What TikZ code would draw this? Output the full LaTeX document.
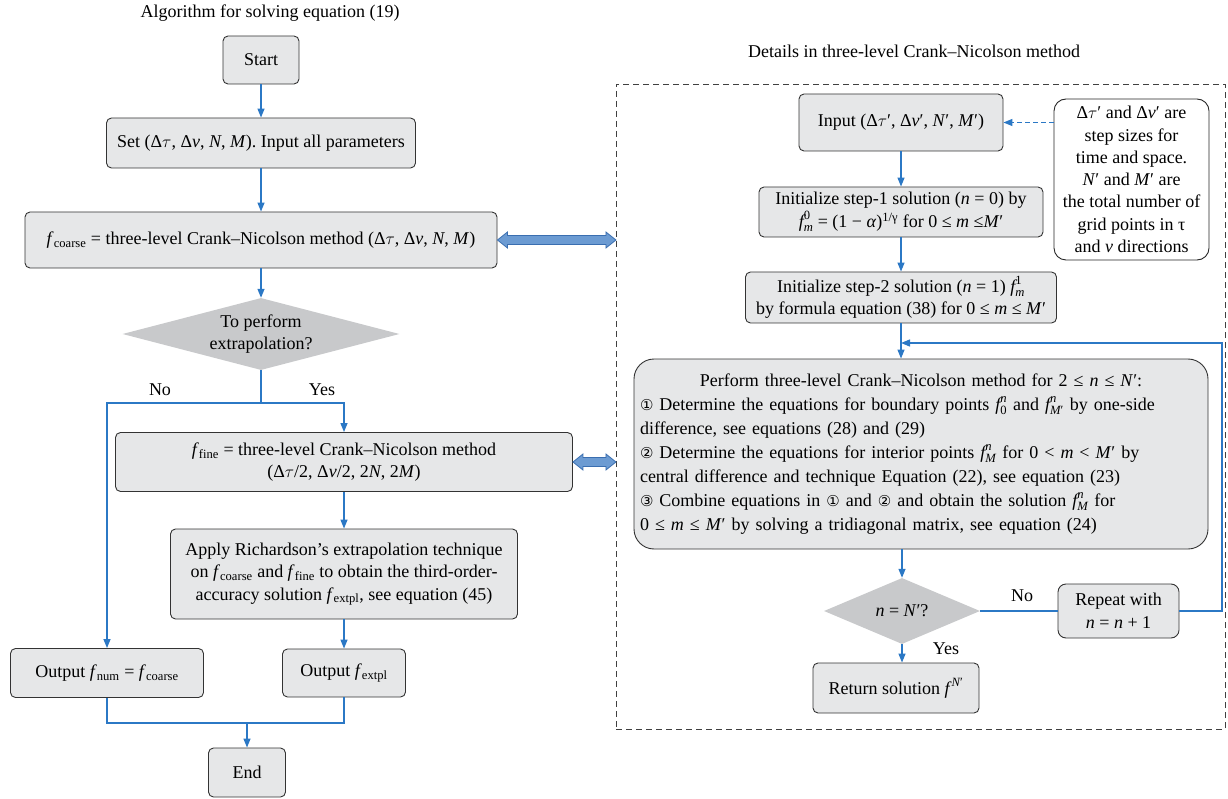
\documentclass[tikz,border=0pt]{standalone}
\usepackage{fontspec}
\usepackage{amsmath}
\setmainfont{Liberation Serif}
\newfontfamily\dejavu{DejaVu Sans}
\usetikzlibrary{shapes.geometric,arrows.meta}
\definecolor{boxfill}{HTML}{E6E7E8}
\definecolor{diafill}{HTML}{C8C9CB}
\definecolor{lblue}{HTML}{2B78C5}
\definecolor{dafill}{HTML}{6C9BD2}
\definecolor{daedge}{HTML}{3A6EB0}
\newcommand\mi[1]{\textit{#1}}
\newcommand\tu{\ensuremath{\tau}}
\newcommand\cnum[1]{{\dejavu\fontsize{15}{15}\selectfont #1}}
\newcommand\fsc[2]{\ensuremath{\mi{f}^{\textnormal{#1}}_{#2}}}
\tikzset{
  box/.style={draw=black!80, fill=boxfill, rounded corners=5pt, line width=0.9pt,
    align=center, inner sep=3pt, font=\fontsize{18}{22.5}\selectfont},
  dec/.style={diamond, fill=diafill, inner sep=0pt, align=center,
    font=\fontsize{18}{22.5}\selectfont},
  flow/.style={draw=lblue, line width=1.3pt, -{Triangle[length=9pt,width=7pt]}},
  conn/.style={draw=lblue, line width=1.3pt},
  dblarrow/.style={draw=daedge, fill=dafill, line width=0.8pt, line join=miter},
  lbl/.style={font=\fontsize{18}{18}\selectfont, inner sep=0pt},
}
\begin{document}
\begin{tikzpicture}[x=1pt,y=-1pt]
\useasboundingbox (0,0) rectangle (1228,799);

% titles
\node[lbl] (t1) at (270,13) {Algorithm for solving equation (19)};
\node[lbl] (t2) at (914,51) {Details in three-level Crank--Nicolson method};

% dashed frame
\node[draw=black!75, dashed, dash pattern=on 6pt off 4pt, line width=0.9pt,
  minimum width=609pt, minimum height=645pt, inner sep=0pt] (frame) at (920.5,406.5) {};

% left column
\node[box, minimum width=76pt, minimum height=48pt] (start) at (261,60) {Start};
\node[box, minimum width=309pt, minimum height=50pt] (set) at (261,143)
  {Set (Δ\tu, Δ\mi{ν}, \mi{N}, \mi{M}). Input all parameters};
\node[box, minimum width=472pt, minimum height=56pt] (coarse) at (261,240)
  {\mi{f}\textsubscript{coarse} = three-level Crank--Nicolson method (Δ\tu, Δ\mi{ν}, \mi{N}, \mi{M})};
\node[dec, minimum width=277pt, minimum height=72pt, aspect=3.8] (d1) at (261,334)
  {To perform\\extrapolation?};
\node[box, minimum width=457pt, minimum height=59pt] (fine) at (344,462)
  {\mi{f}\textsubscript{fine} = three-level Crank--Nicolson method\\(Δ\tu/2, Δ\mi{ν}/2, 2\mi{N}, 2\mi{M})};
\node[box, minimum width=347pt, minimum height=90pt] (apply) at (344,574)
  {Apply Richardson’s extrapolation technique\\on \mi{f}\textsubscript{coarse} and \mi{f}\textsubscript{fine} to obtain the third-order-\\accuracy solution \mi{f}\textsubscript{extpl}, see equation (45)};
\node[box, minimum width=193pt, minimum height=49pt] (out1) at (107,673)
  {Output \mi{f}\textsubscript{num} = \mi{f}\textsubscript{coarse}};
\node[box, minimum width=123pt, minimum height=48pt] (out2) at (344,673)
  {Output \mi{f}\textsubscript{extpl}};
\node[box, minimum width=77pt, minimum height=49pt] (end) at (247,772.5) {End};

\coordinate (split) at (261,403);
\coordinate (mrg) at (247,723);

\draw[flow] (start) -- (set);
\draw[flow] (set) -- (coarse);
\draw[flow] (coarse) -- (d1);
\draw[conn] (d1.south) -- (split);
\draw[flow] (split) -| (out1.north);
\draw[flow] (split) -| (fine.north);
\draw[flow] (fine) -- (apply);
\draw[flow] (apply) -- (out2);
\draw[conn] (out1.south) |- (mrg);
\draw[conn] (out2.south) |- (mrg);
\draw[flow] (mrg) -- (end);

\node[lbl] (no1) at (160,390) {No};
\node[lbl] (yes1) at (322,390) {Yes};

% double arrows
\draw[dblarrow] (coarse.east) -- ++(10,-8) -- ++(0,3.5) -- ++(98.5,0) -- ++(0,-3.5)
  -- ++(10,8) -- ++(-10,8) -- ++(0,-3.5) -- ++(-98.5,0) -- ++(0,3.5) -- cycle;
\draw[dblarrow] (fine.east) -- ++(10,-8) -- ++(0,3.5) -- ++(23,0) -- ++(0,-3.5)
  -- ++(10,8) -- ++(-10,8) -- ++(0,-3.5) -- ++(-23,0) -- ++(0,3.5) -- cycle;

% right column
\node[box, minimum width=204pt, minimum height=57pt] (input) at (901,122.5)
  {Input (Δ\tu′, Δ\mi{ν}′, \mi{N}′, \mi{M}′)};
\node[draw=black!85, fill=white, rounded corners=12pt, line width=0.9pt, align=center,
  minimum width=155pt, minimum height=161pt, inner sep=2pt,
  font=\fontsize{18}{22.3}\selectfont] (note) at (1131.5,179.5)
  {Δ\tu′ and Δ\mi{ν}′ are\\step sizes for\\time and space.\\\mi{N}′ and \mi{M}′ are\\the total number of\\grid points in τ\\and \mi{ν} directions};
\node[box, minimum width=284pt, minimum height=50pt] (init1) at (901,212)
  {Initialize step-1 solution (\mi{n} = 0) by\\\fsc{0}{\mi{m}} = (1 − \mi{α})\textsuperscript{1/γ} for 0 ≤ \mi{m} ≤\mi{M}′};
\node[box, minimum width=311pt, minimum height=51pt] (init2) at (901,297.5)
  {Initialize step-2 solution (\mi{n} = 1) \fsc{1}{\mi{m}}\\by formula equation (38) for 0 ≤ \mi{m} ≤ \mi{M}′};
\node[box, rounded corners=20pt, minimum width=574pt, minimum height=190pt,
  text width=562pt, align=left, inner sep=6pt, font=\fontsize{18}{24}\selectfont] (perf) at (921,454)
  {\makebox[\linewidth][c]{Perform three-level Crank--Nicolson method for 2 ≤ \mi{n} ≤ \mi{N}′:}\\
   \cnum{①} Determine the equations for boundary points \fsc{\mi{n}}{\textnormal{0}} and \fsc{\mi{n}}{\mi{M}′} by one-side\\
   difference, see equations (28) and (29)\\
   \cnum{②} Determine the equations for interior points \fsc{\mi{n}}{\mi{M}} for 0 < \mi{m} < \mi{M}′ by\\
   central difference and technique Equation (22), see equation (23)\\
   \cnum{③} Combine equations in \cnum{①} and \cnum{②} and obtain the solution \fsc{\mi{n}}{\mi{M}} for\\
   0 ≤ \mi{m} ≤ \mi{M}′ by solving a tridiagonal matrix, see equation (24)};
\node[dec, minimum width=156pt, minimum height=66pt, aspect=2.4] (d2) at (902,611)
  {\mi{n} = \mi{N}′?};
\node[box, rounded corners=8pt, minimum width=121pt, minimum height=54pt] (rep) at (1118.5,611)
  {Repeat with\\\mi{n} = \mi{n} + 1};
\node[box, minimum width=166pt, minimum height=50pt] (ret) at (896,688)
  {Return solution \ensuremath{\mi{f}^{\,\mi{N}′}}};

\coordinate (lpc) at (1222,343);
\coordinate (lpj) at (901,343);

\draw[flow, dashed, dash pattern=on 5pt off 3pt] (note.west |- input.east) -- (input.east);
\draw[flow] (input) -- (init1);
\draw[flow] (init1) -- (init2);
\draw[flow] (init2.south) -- (init2.south |- perf.north);
\draw[flow] (rep.east) -| (lpc) -- (lpj);
\draw[flow] (perf.south -| d2.north) -- (d2.north);
\draw[conn] (d2.east) -- (rep.west);
\draw[flow] (d2.south) -- (d2.south |- ret.north);

\node[lbl] (no2) at (1022,596) {No};
\node[lbl] (yes2) at (946,649) {Yes};
\end{tikzpicture}
\end{document}
